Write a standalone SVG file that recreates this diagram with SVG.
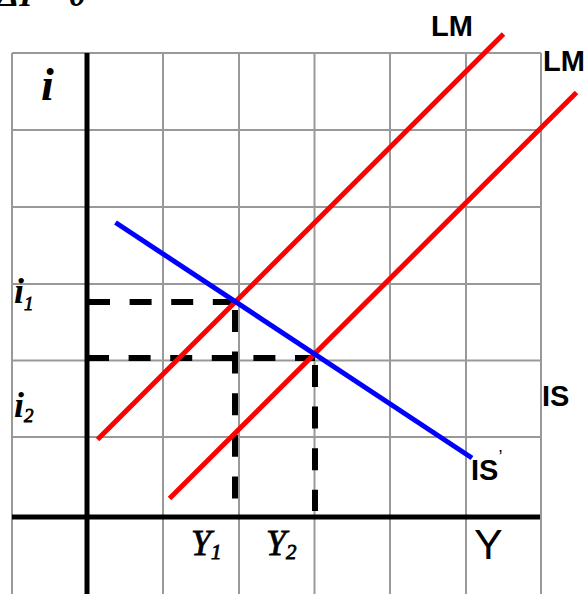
<svg xmlns="http://www.w3.org/2000/svg" width="584" height="594" viewBox="0 0 584 594">
<style>
.grid{stroke:#999;stroke-width:2;fill:none}
.axis{stroke:#000;stroke-width:5;fill:none}
.lm{stroke:#ff0000;stroke-width:5;fill:none}
.is{stroke:#0000ff;stroke-width:5;fill:none}
.dash{stroke:#000;stroke-width:6;stroke-dasharray:22 19.6;fill:none}
.sans{font-family:"Liberation Sans",Arial,sans-serif;font-weight:bold;fill:#000}
.serif{font-family:"Liberation Serif","Times New Roman",serif;font-style:italic;fill:#000}
.med{font-family:"Liberation Serif","Times New Roman",serif;font-style:italic;font-weight:normal;fill:#000;stroke:#000;stroke-width:0.8}
</style>
<rect width="584" height="594" fill="#fff"/>
<g id="grid">
<path class="grid" d="M12 53H541M12 130H541M12 207H541M12 284H541M12 360.5H541M12 437H541"/>
<path class="grid" d="M12 53V594M163 53V594M239 53V594M314.5 53V594M390 53V594M466 53V594M541 53V594"/>
</g>
<g id="dashed">
<path class="dash" d="M88 302H236"/>
<path class="dash" d="M87 358H315"/>
<path class="dash" d="M235 310V500"/>
<path class="dash" d="M315 365V511"/>
</g>
<g id="curves">
<line id="LM1" class="lm" x1="97.5" y1="439.5" x2="503.5" y2="34"/>
<line id="LM2" class="lm" x1="169.5" y1="498.5" x2="576.5" y2="92.5"/>
<line id="IS" class="is" x1="115.5" y1="222.5" x2="472" y2="458"/>
</g>
<g id="axes">
<path class="axis" d="M87 53V594"/>
<path class="axis" d="M12 517H540" stroke-width="6"/>
</g>
<g id="labels">
<text class="serif" x="-2" y="6" font-size="34" font-weight="bold">ΔI = 0</text>
<text class="serif" x="41" y="100" font-size="46" font-weight="bold">i</text>
<text class="serif" x="14" y="303" font-size="36" font-weight="bold">i<tspan class="med" font-size="19" dy="7">1</tspan></text>
<text class="serif" x="14" y="417" font-size="36" font-weight="bold">i<tspan class="med" font-size="19" dy="5">2</tspan></text>
<text class="med" x="191" y="555" font-size="36">Y<tspan font-size="21" dy="4">1</tspan></text>
<text class="med" x="266" y="555" font-size="36">Y<tspan font-size="21" dy="4">2</tspan></text>
<text x="474" y="559" font-family="Liberation Sans,Arial,sans-serif" font-size="43">Y</text>
<text class="sans" x="431" y="36" font-size="29">LM</text>
<text class="sans" x="543" y="71" font-size="29">LM</text>
<text class="sans" x="542" y="406" font-size="29">IS</text>
<text class="sans" x="471" y="480" font-size="29">IS<tspan font-size="18" font-weight="normal" dy="-17">’</tspan></text>
</g>
</svg>
